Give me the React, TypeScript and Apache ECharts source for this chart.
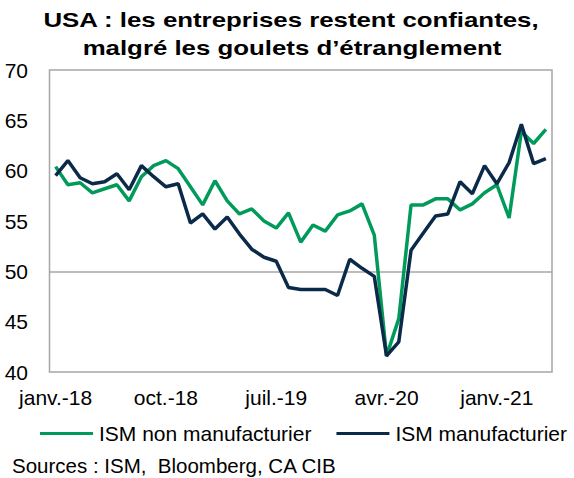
import React, { useEffect, useRef } from "react";
import * as echarts from "echarts";

const monthNames = ["janv.", "févr.", "mars", "avr.", "mai", "juin", "juil.", "août", "sept.", "oct.", "nov.", "déc."];
const startYear = 2018;
const monthCount = 41;
const categories: string[] = Array.from({ length: monthCount }, (_, i) => {
  const m = i % 12;
  const y = startYear + Math.floor(i / 12);
  return `${monthNames[m]}-${String(y).slice(2)}`;
});

const ismNonManufacturier = [
  60.4, 58.6, 58.8, 57.8, 58.2, 58.6, 57.0, 59.4, 60.5, 61.0, 60.2, 58.4,
  56.6, 59.0, 57.0, 55.7, 56.2, 55.0, 54.3, 55.8, 52.9, 54.6, 54.0, 55.6,
  56.0, 56.7, 53.6, 41.6, 45.3, 56.6, 56.6, 57.2, 57.2, 56.1, 56.7, 57.8,
  58.6, 55.3, 63.9, 62.7, 64.1,
];
const ismManufacturier = [
  59.5, 61.0, 59.3, 58.7, 58.9, 59.7, 58.1, 60.5, 59.4, 58.4, 58.7, 54.8,
  55.7, 54.2, 55.4, 53.7, 52.2, 51.4, 51.0, 48.4, 48.2, 48.2, 48.2, 47.6,
  51.2, 50.3, 49.5, 41.6, 43.0, 52.1, 53.8, 55.5, 55.7, 58.9, 57.7, 60.5,
  58.7, 60.8, 64.6, 60.7, 61.2,
];
const yTicks = [40, 45, 50, 55, 60, 65, 70];

const titleLines = ["USA : les entreprises restent confiantes,", "malgré les goulets d’étranglement"];
const sourceText = "Sources : ISM,  Bloomberg, CA CIB";
const seriesNames = ["ISM non manufacturier", "ISM manufacturier"];

const GREEN = "#009A5B";
const NAVY = "#0B2A4A";
const FONT = "'Liberation Sans', Arial, sans-serif";

export default function App() {
  const ref = useRef<HTMLDivElement>(null);
  useEffect(() => {
    if (!ref.current) return;
    const chart = echarts.init(ref.current, undefined, { renderer: "svg" });
    chart.setOption({
      animation: false,
      textStyle: { fontFamily: FONT },
      legend: {
        data: seriesNames,
        left: 40,
        top: 423,
        width: 534,
        padding: 0,
        itemWidth: 53,
        itemHeight: 3,
        itemGap: 25,
        icon: "rect",
        textStyle: { fontFamily: FONT, fontSize: 21, color: "#000", padding: [0, 0, 0, 1] },
      },
      graphic: [
        {
          type: "text",
          x: 291,
          y: 9,
          scaleX: 1.23,
          style: {
            text: titleLines[0],
            textAlign: "center",
            textVerticalAlign: "top",
            fontFamily: FONT,
            fontSize: 21,
            fontWeight: "bold",
            fill: "#000",
          },
        },
        {
          type: "text",
          x: 292,
          y: 37,
          scaleX: 1.23,
          style: {
            text: titleLines[1],
            textAlign: "center",
            textVerticalAlign: "top",
            fontFamily: FONT,
            fontSize: 21,
            fontWeight: "bold",
            fill: "#000",
          },
        },
        {
          type: "text",
          left: 12,
          top: 455,
          style: { text: sourceText, fontFamily: FONT, fontSize: 20.5, fill: "#000" },
        },
      ],
      grid: {
        left: 49.5,
        right: 22,
        top: 70,
        bottom: 106,
        show: true,
        borderColor: "#a6a6a6",
        borderWidth: 1.5,
        containLabel: false,
      },
      xAxis: {
        type: "category",
        data: categories,
        boundaryGap: true,
        axisLine: { show: false },
        axisTick: { show: false },
        axisLabel: { interval: 8, margin: 15, fontSize: 21, color: "#000", fontFamily: FONT },
        splitLine: { show: false },
      },
      yAxis: {
        type: "value",
        min: yTicks[0],
        max: yTicks[yTicks.length - 1],
        interval: 5,
        axisLine: { show: false },
        axisTick: { show: false },
        axisLabel: { margin: 21.5, fontSize: 21, color: "#000", fontFamily: FONT },
        splitLine: {
          show: true,
          lineStyle: {
            color: yTicks.map((v) => (v === 50 ? "#a6a6a6" : "rgba(0,0,0,0)")),
            width: 1.5,
          },
        },
      },
      series: [
        {
          name: seriesNames[0],
          type: "line",
          data: ismNonManufacturier,
          symbol: "none",
          lineStyle: { color: GREEN, width: 3.5 },
          itemStyle: { color: GREEN },
          z: 2,
        },
        {
          name: seriesNames[1],
          type: "line",
          data: ismManufacturier,
          symbol: "none",
          lineStyle: { color: NAVY, width: 3.5 },
          itemStyle: { color: NAVY },
          z: 3,
        },
      ],
    });
    return () => chart.dispose();
  }, []);
  return (
    <div
      ref={ref}
      style={{ position: "fixed", left: 0, top: 0, width: 574, height: 478, background: "#fff" }}
    />
  );
}
